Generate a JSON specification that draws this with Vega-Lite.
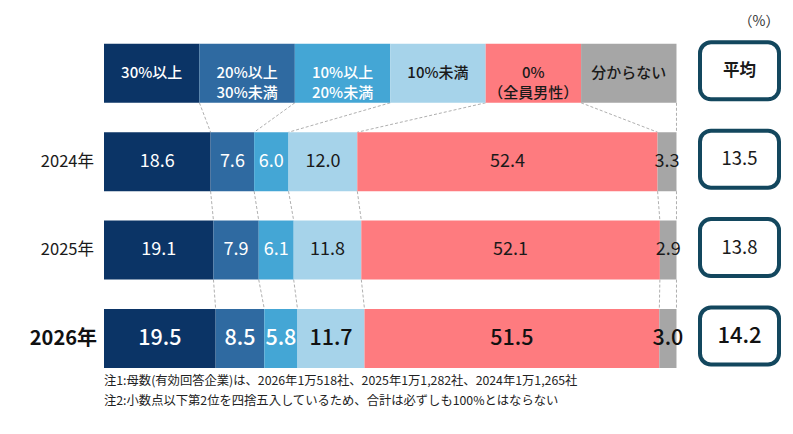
{
  "$schema": "https://vega.github.io/schema/vega-lite/v6.json",
  "padding": 0,
  "background": "white",
  "spacing": 0,
  "bounds": "flush",
  "config": {
    "view": {"stroke": null},
    "text": {"font": "Noto Sans CJK JP"},
    "title": {"font": "Noto Sans CJK JP"}
  },
  "datasets": {
    "shares": [
      {"r": 0, "k": 0, "cat": "30%以上", "label": "30%以上", "value": 1},
      {"r": 0, "k": 1, "cat": "20%以上30%未満", "label": "20%以上\n30%未満", "value": 1},
      {"r": 0, "k": 2, "cat": "10%以上20%未満", "label": "10%以上\n20%未満", "value": 1},
      {"r": 0, "k": 3, "cat": "10%未満", "label": "10%未満", "value": 1},
      {"r": 0, "k": 4, "cat": "0%（全員男性）", "label": "0%\n（全員男性）", "value": 1},
      {"r": 0, "k": 5, "cat": "分からない", "label": "分からない", "value": 1},
      {"r": 1, "year": "2024年", "k": 0, "cat": "30%以上", "value": 18.6},
      {"r": 1, "year": "2024年", "k": 1, "cat": "20%以上30%未満", "value": 7.6},
      {"r": 1, "year": "2024年", "k": 2, "cat": "10%以上20%未満", "value": 6.0},
      {"r": 1, "year": "2024年", "k": 3, "cat": "10%未満", "value": 12.0},
      {"r": 1, "year": "2024年", "k": 4, "cat": "0%（全員男性）", "value": 52.4},
      {"r": 1, "year": "2024年", "k": 5, "cat": "分からない", "value": 3.3},
      {"r": 2, "year": "2025年", "k": 0, "cat": "30%以上", "value": 19.1},
      {"r": 2, "year": "2025年", "k": 1, "cat": "20%以上30%未満", "value": 7.9},
      {"r": 2, "year": "2025年", "k": 2, "cat": "10%以上20%未満", "value": 6.1},
      {"r": 2, "year": "2025年", "k": 3, "cat": "10%未満", "value": 11.8},
      {"r": 2, "year": "2025年", "k": 4, "cat": "0%（全員男性）", "value": 52.1},
      {"r": 2, "year": "2025年", "k": 5, "cat": "分からない", "value": 2.9},
      {"r": 3, "year": "2026年", "k": 0, "cat": "30%以上", "value": 19.5},
      {"r": 3, "year": "2026年", "k": 1, "cat": "20%以上30%未満", "value": 8.5},
      {"r": 3, "year": "2026年", "k": 2, "cat": "10%以上20%未満", "value": 5.8},
      {"r": 3, "year": "2026年", "k": 3, "cat": "10%未満", "value": 11.7},
      {"r": 3, "year": "2026年", "k": 4, "cat": "0%（全員男性）", "value": 51.5},
      {"r": 3, "year": "2026年", "k": 5, "cat": "分からない", "value": 3.0}
    ],
    "avg": [
      {"r": 0, "label": "平均"},
      {"r": 1, "label": "13.5"},
      {"r": 2, "label": "13.8"},
      {"r": 3, "label": "14.2"}
    ],
    "years": [
      {"r": 1, "year": "2024年"},
      {"r": 2, "year": "2025年"},
      {"r": 3, "year": "2026年"}
    ]
  },
  "hconcat": [
    {
      "width": 104,
      "height": 434,
      "data": {"name": "years"},
      "layer": [
        {
          "transform": [{"filter": "datum.r < 3"}],
          "mark": {"type": "text", "align": "right", "baseline": "middle", "dx": 42, "fontSize": 16.5, "color": "#1a1a1a"},
          "encoding": {
            "y": {"field": "r", "type": "quantitative", "scale": {"domain": [-0.8292, 4.0803], "reverse": true, "nice": false, "zero": false}, "axis": null},
            "text": {"field": "year"}
          }
        },
        {
          "transform": [{"filter": "datum.r == 3"}],
          "mark": {"type": "text", "align": "right", "baseline": "middle", "dx": 45, "fontSize": 20, "fontWeight": "bold", "color": "#111111"},
          "encoding": {
            "y": {"field": "r", "type": "quantitative", "scale": {"domain": [-0.8292, 4.0803], "reverse": true, "nice": false, "zero": false}, "axis": null},
            "text": {"field": "year"}
          }
        }
      ]
    },
    {
      "width": 596,
      "height": 372,
      "data": {"name": "shares"},
      "title": {
        "text": ["注1:母数(有効回答企業)は、2026年1万518社、2025年1万1,282社、2024年1万1,265社", "注2:小数点以下第2位を四捨五入しているため、合計は必ずしも100%とはならない"],
        "orient": "bottom",
        "anchor": "start",
        "frame": "group",
        "fontSize": 12.3,
        "fontWeight": "normal",
        "lineHeight": 20,
        "offset": 3,
        "color": "#222222"
      },
      "transform": [
        {"stack": "value", "groupby": ["r"], "sort": [{"field": "k", "order": "ascending"}], "offset": "normalize", "as": ["x0", "x1"]}
      ],
      "layer": [
        {
          "transform": [
            {"window": [{"op": "lead", "field": "x1", "as": "nx1"}, {"op": "lead", "field": "r", "as": "nr"}], "groupby": ["k"], "sort": [{"field": "r", "order": "ascending"}]},
            {"filter": "datum.nr != null"}
          ],
          "mark": {"type": "rule", "color": "#9a9a9a", "strokeDash": [3, 2], "strokeWidth": 0.8, "yOffset": 29.5, "y2Offset": -29.5},
          "encoding": {
            "x": {"field": "x1", "type": "quantitative", "scale": {"domain": [0, 1.04105], "nice": false, "zero": false}, "axis": null},
            "x2": {"field": "nx1"},
            "y": {"field": "r", "type": "quantitative", "scale": {"domain": [-0.8292, 3.3789], "reverse": true, "nice": false, "zero": false}, "axis": null},
            "y2": {"field": "nr"}
          }
        },
        {
          "mark": {"type": "rect", "yOffset": -29.5, "y2Offset": 29.5},
          "encoding": {
            "x": {"field": "x0", "type": "quantitative", "scale": {"domain": [0, 1.04105], "nice": false, "zero": false}, "axis": null},
            "x2": {"field": "x1"},
            "y": {"field": "r", "type": "quantitative", "scale": {"domain": [-0.8292, 3.3789], "reverse": true, "nice": false, "zero": false}, "axis": null},
            "y2": {"field": "r"},
            "color": {
              "field": "cat",
              "type": "nominal",
              "scale": {
                "domain": ["30%以上", "20%以上30%未満", "10%以上20%未満", "10%未満", "0%（全員男性）", "分からない"],
                "range": ["#0b3466", "#2f6aa1", "#44a6d5", "#a6d3ea", "#fe7b7f", "#a6a6a6"]
              },
              "legend": null
            }
          }
        },
        {
          "transform": [{"filter": "datum.r == 0"}],
          "mark": {"type": "text", "baseline": "middle", "fontSize": 15, "fontWeight": 500, "lineBreak": "\n", "lineHeight": 20},
          "encoding": {
            "x": {"field": "value", "type": "quantitative", "stack": "normalize", "bandPosition": 0.5, "scale": {"domain": [0, 1.04105], "nice": false, "zero": false}, "axis": null},
            "order": {"field": "k"},
            "y": {"field": "r", "type": "quantitative", "scale": {"domain": [-0.8292, 3.3789], "reverse": true, "nice": false, "zero": false}, "axis": null},
            "text": {"field": "label"},
            "color": {"condition": {"test": "datum.k <= 2", "value": "#ffffff"}, "value": "#1a1a1a"}
          }
        },
        {
          "transform": [{"filter": "datum.r == 1 || datum.r == 2"}],
          "mark": {"type": "text", "baseline": "middle", "fontSize": 18},
          "encoding": {
            "x": {"field": "value", "type": "quantitative", "stack": "normalize", "bandPosition": 0.5, "scale": {"domain": [0, 1.04105], "nice": false, "zero": false}, "axis": null},
            "order": {"field": "k"},
            "y": {"field": "r", "type": "quantitative", "scale": {"domain": [-0.8292, 3.3789], "reverse": true, "nice": false, "zero": false}, "axis": null},
            "text": {"field": "value", "type": "quantitative", "format": ".1f"},
            "color": {"condition": {"test": "datum.k <= 2", "value": "#ffffff"}, "value": "#1a1a1a"}
          }
        },
        {
          "transform": [{"filter": "datum.r == 3"}],
          "mark": {"type": "text", "baseline": "middle", "fontSize": 21.5, "fontWeight": 500},
          "encoding": {
            "x": {"field": "value", "type": "quantitative", "stack": "normalize", "bandPosition": 0.5, "scale": {"domain": [0, 1.04105], "nice": false, "zero": false}, "axis": null},
            "order": {"field": "k"},
            "y": {"field": "r", "type": "quantitative", "scale": {"domain": [-0.8292, 3.3789], "reverse": true, "nice": false, "zero": false}, "axis": null},
            "text": {"field": "value", "type": "quantitative", "format": ".1f"},
            "color": {"condition": {"test": "datum.k <= 2", "value": "#ffffff"}, "value": "#111111"}
          }
        }
      ]
    },
    {
      "width": 79,
      "height": 434,
      "data": {"name": "avg"},
      "layer": [
        {
          "mark": {"type": "rect", "fill": "#ffffff", "stroke": "#13475e", "strokeWidth": 4, "cornerRadius": 11, "yOffset": -31, "y2Offset": 26},
          "encoding": {
            "y": {"field": "r", "type": "quantitative", "scale": {"domain": [-0.8292, 4.0803], "reverse": true, "nice": false, "zero": false}, "axis": null},
            "y2": {"field": "r"}
          }
        },
        {
          "transform": [{"filter": "datum.r == 0"}],
          "mark": {"type": "text", "baseline": "middle", "dy": -2.5, "fontSize": 16.5, "fontWeight": "bold", "color": "#1a1a1a"},
          "encoding": {
            "y": {"field": "r", "type": "quantitative", "scale": {"domain": [-0.8292, 4.0803], "reverse": true, "nice": false, "zero": false}, "axis": null},
            "text": {"field": "label"}
          }
        },
        {
          "transform": [{"filter": "datum.r == 0"}],
          "mark": {"type": "text", "baseline": "middle", "align": "right", "dx": 40, "dy": -51, "fontSize": 14, "color": "#333333", "text": "（%）"},
          "encoding": {
            "y": {"field": "r", "type": "quantitative", "scale": {"domain": [-0.8292, 4.0803], "reverse": true, "nice": false, "zero": false}, "axis": null}
          }
        },
        {
          "transform": [{"filter": "datum.r == 1 || datum.r == 2"}],
          "mark": {"type": "text", "baseline": "middle", "dy": -2.5, "fontSize": 18.5, "color": "#1a1a1a"},
          "encoding": {
            "y": {"field": "r", "type": "quantitative", "scale": {"domain": [-0.8292, 4.0803], "reverse": true, "nice": false, "zero": false}, "axis": null},
            "text": {"field": "label"}
          }
        },
        {
          "transform": [{"filter": "datum.r == 3"}],
          "mark": {"type": "text", "baseline": "middle", "dy": -2.5, "fontSize": 22, "fontWeight": 500, "color": "#111111"},
          "encoding": {
            "y": {"field": "r", "type": "quantitative", "scale": {"domain": [-0.8292, 4.0803], "reverse": true, "nice": false, "zero": false}, "axis": null},
            "text": {"field": "label"}
          }
        }
      ]
    }
  ]
}
